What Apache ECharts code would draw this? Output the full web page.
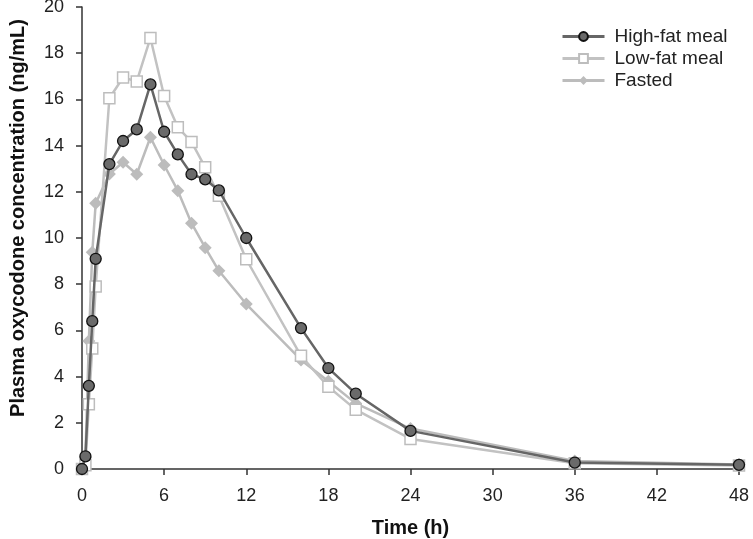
<!DOCTYPE html>
<html><head><meta charset="utf-8">
<script src="https://cdn.jsdelivr.net/npm/echarts@6/dist/echarts.min.js"></script>
<style>html,body{margin:0;padding:0;background:#fff}#c{width:753px;height:539px}</style>
</head><body><div id="c"></div>
<script>
var times   = [0, 0.25, 0.5, 0.75, 1, 2, 3, 4, 5, 6, 7, 8, 9, 10, 12, 16, 18, 20, 24, 36, 48];
var highFat = [0, 0.55, 3.6, 6.4, 9.1, 13.2, 14.2, 14.7, 16.65, 14.6, 13.62, 12.76, 12.54, 12.06, 10.0, 6.1, 4.37, 3.26, 1.65, 0.28, 0.18];
var lowFat  = [0, 0.16, 2.8, 5.22, 7.9, 16.05, 16.95, 16.78, 18.66, 16.15, 14.79, 14.16, 13.06, 11.83, 9.08, 4.9, 3.56, 2.57, 1.3, 0.25, 0.15];
var fasted  = [0, 0.5, 5.54, 9.38, 11.5, 12.77, 13.28, 12.76, 14.36, 13.16, 12.05, 10.64, 9.58, 8.58, 7.14, 4.72, 3.8, 2.84, 1.75, 0.35, 0.2];
var xTicks = [0, 6, 12, 18, 24, 30, 36, 42, 48];
var yTicks = [0, 2, 4, 6, 8, 10, 12, 14, 16, 18, 20];
var names = ['High-fat meal', 'Low-fat meal', 'Fasted'];

function pairs(v){ return times.map(function(t,i){ return [t, v[i]]; }); }
var font = 'Liberation Sans, Arial, sans-serif';
var chart = echarts.init(document.getElementById('c'));
chart.setOption({
  animation: false,
  grid: {left: 82, right: 14, top: 7, bottom: 70, containLabel: false, outerBoundsMode: 'none'},
  legend: {
    left: 556, top: 22, orient: 'vertical', itemGap: 3, itemWidth: 42, itemHeight: 11,
    lineStyle: {width: 3},
    textStyle: {fontFamily: font, fontSize: 19, color: '#222', padding: [0, 0, 0, 5]},
    data: names
  },
  xAxis: {
    type: 'value', min: xTicks[0], max: xTicks[xTicks.length-1], interval: 6,
    name: 'Time (h)', nameLocation: 'middle', nameGap: 49,
    nameTextStyle: {fontFamily: font, fontWeight: 'bold', fontSize: 20, color: '#111'},
    axisLine: {lineStyle: {color: '#333', width: 1.5}},
    axisTick: {show: true, length: 6, lineStyle: {color: '#333', width: 1.5}},
    axisLabel: {fontFamily: font, fontSize: 18, color: '#222', margin: 18},
    splitLine: {show: false}
  },
  yAxis: {
    type: 'value', min: yTicks[0], max: yTicks[yTicks.length-1], interval: 2,
    name: 'Plasma oxycodone concentration (ng/mL)', nameLocation: 'middle', nameGap: 54,
    nameTextStyle: {fontFamily: font, fontWeight: 'bold', fontSize: 20, color: '#111', padding: [0, 0, 0, 40]},
    axisLine: {show: true, lineStyle: {color: '#333', width: 1.5}},
    axisTick: {show: true, length: 6, lineStyle: {color: '#333', width: 1.5}},
    axisLabel: {fontFamily: font, fontSize: 18, color: '#222', margin: 18},
    splitLine: {show: false}
  },
  series: [
    {name: names[2], type: 'line', data: pairs(fasted), symbol: 'diamond', symbolSize: 13, z: 2,
     lineStyle: {color: '#bcbcbc', width: 2.5}, itemStyle: {color: '#bcbcbc', borderColor: '#bcbcbc', borderWidth: 0}},
    {name: names[1], type: 'line', data: pairs(lowFat), symbol: 'rect', symbolSize: 11, z: 3,
     lineStyle: {color: '#c2c2c2', width: 2.5}, itemStyle: {color: '#ffffff', borderColor: '#bdbdbd', borderWidth: 1.5}},
    {name: names[0], type: 'line', data: pairs(highFat), symbol: 'circle', symbolSize: 11, z: 4,
     lineStyle: {color: '#666666', width: 2.5}, itemStyle: {color: '#6a6a6a', borderColor: '#111', borderWidth: 1.3}}
  ]
});
</script></body></html>
